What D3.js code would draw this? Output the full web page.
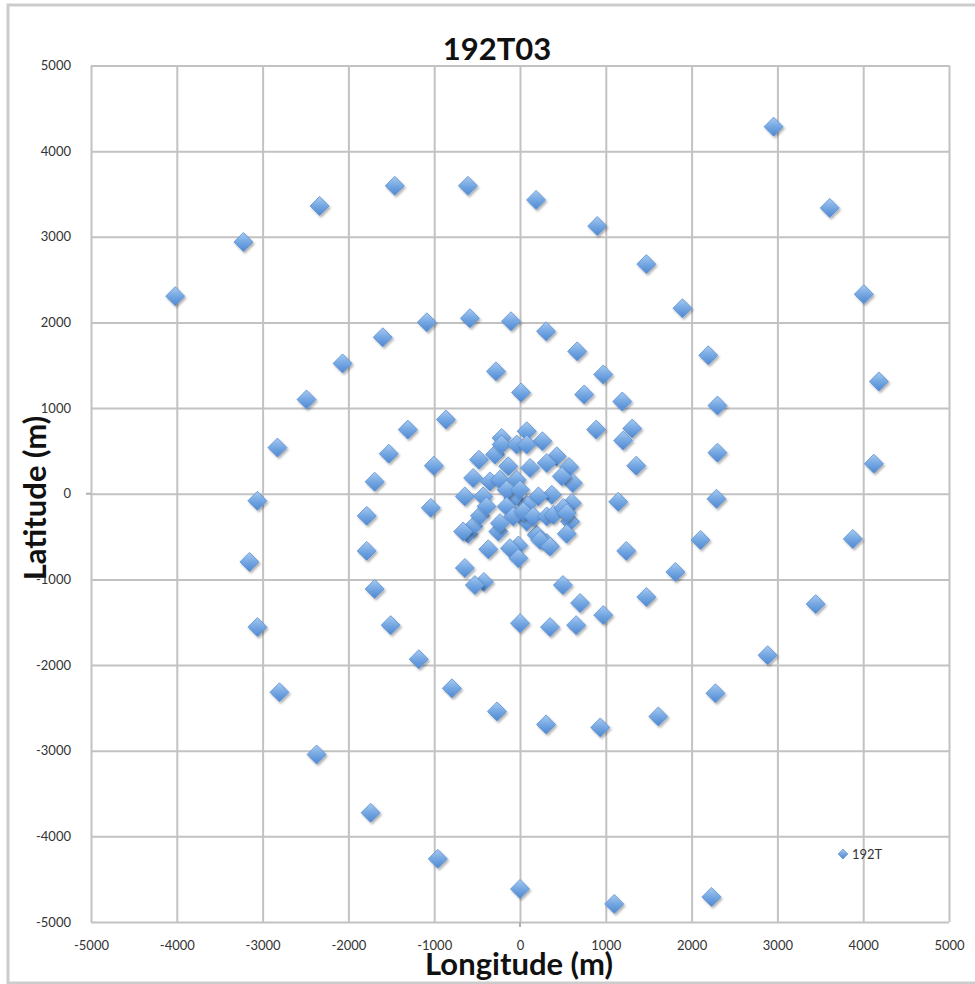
<!DOCTYPE html>
<html>
<head>
<meta charset="utf-8">
<script src="https://cdn.jsdelivr.net/npm/d3@7"></script>
<style>
  body { margin: 0; background: #fff; }
  svg { display: block; font-family: Lato, "Open Sans", sans-serif; }
</style>
</head>
<body>
<svg width="975" height="984"></svg>
<script>
// stations (longitude, latitude) in metres
let ringOuter = [
    [2956, 4286], [3610, 3337], [4007, 2330], [4182, 1311], [4124, 351], [3879, -527],
    [3446, -1288], [2886, -1885], [2278, -2330], [2231, -4707], [1098, -4789], [0, -4614],
    [-958, -4262], [-1741, -3724], [-2371, -3044], [-2804, -2318], [-3061, -1557], [-3154, -796],
    [-3061, -82], [-2827, 539], [-2488, 1101], [-4019, 2307], [-3224, 2939], [-2336, 3360],
    [-1460, 3595], [-607, 3595], [187, 3431], [900, 3126], [1472, 2681], [1893, 2166]
];
let ringMiddle = [
    [-2068, 1522], [-1600, 1827], [-1086, 2002], [-584, 2049], [-105, 2014], [304, 1897],
    [666, 1663], [970, 1393], [1192, 1077], [2194, 1616], [2301, 1030], [2301, 480],
    [2290, -59], [2103, -539], [1811, -913], [1472, -1206], [1612, -2600], [935, -2728],
    [304, -2693], [-269, -2541], [-794, -2272], [-1180, -1932], [-1507, -1534], [-1694, -1112],
    [-1787, -667], [-1787, -258], [-1694, 141], [-1530, 468], [-1308, 749]
];
let ringInner = [
    [-864, 867], [-280, 1429], [12, 1183], [748, 1159], [888, 749], [1308, 761],
    [1203, 621], [1355, 328], [1145, -94], [1238, -667], [970, -1417], [654, -1534],
    [350, -1557], [0, -1511], [700, -1276], [500, -1066], [-421, -1030], [-526, -1066],
    [-643, -867], [-1040, -164], [-1005, 328]
];
let core = [
    [-214, 652], [78, 730], [261, 613], [428, 437], [572, 312], [616, 125], [604, -109],
    [584, -324], [545, -468], [312, -577], [195, -480], [78, -324], [-19, -605], [-117, -636],
    [-19, -753], [-253, -441], [-370, -648], [-604, -468], [-546, -383], [-467, -258],
    [-643, -31], [-546, 184], [-479, 398], [-350, 144], [-234, 164], [-137, 320], [-292, 457],
    [-214, 574], [-39, 574], [117, 301], [78, 574], [312, 359], [487, 203], [370, -12],
    [214, -31], [78, -129], [-78, -51], [-39, 164], [-156, 47], [-429, -31], [-390, -148],
    [-156, -148], [-78, -265], [39, -207], [0, 47], [156, -265], [312, -265], [390, -246],
    [507, -168], [545, -226], [234, -539], [350, -617], [-234, -343], [-662, -441]
];
let ticks = d3.range(-5000, 5001, 1000);
let serieName = "192T";

let svg = d3.select("svg");
let gauche = 91, droite = 949, haut = 65.5, bas = 922;

let x = d3.scaleLinear().domain([-5000, 5000]).range([gauche, droite]);
let y = d3.scaleLinear().domain([-5000, 5000]).range([bas, haut]);

// cadre du graphique
svg.append("rect")
    .attr("x", 8)
    .attr("y", 5)
    .attr("width", 975)
    .attr("height", 978)
    .attr("fill", "none")
    .attr("stroke", "#cccccc")
    .attr("stroke-width", 3);

let defs = svg.append("defs");
let grad = defs.append("linearGradient")
    .attr("id", "bleu")
    .attr("x1", 0).attr("y1", 0)
    .attr("x2", 0).attr("y2", 1);
grad.append("stop").attr("offset", "0%").attr("stop-color", "#a8caf0");
grad.append("stop").attr("offset", "50%").attr("stop-color", "#74a7e2");
grad.append("stop").attr("offset", "100%").attr("stop-color", "#4f88d2");

defs.append("filter")
    .attr("id", "ombre")
    .attr("x", "-50%").attr("y", "-50%")
    .attr("width", "200%").attr("height", "200%")
    .append("feDropShadow")
    .attr("dx", 1.5).attr("dy", 2)
    .attr("stdDeviation", 1.2)
    .attr("flood-color", "#000")
    .attr("flood-opacity", 0.3);

// grille + étiquettes (format sans séparateur, tiret simple)
let fmt = d => String(d);
let axeX = svg.append("g")
    .attr("transform", `translate(0,${bas})`)
    .call(d3.axisBottom(x).tickValues(ticks).tickFormat(fmt).tickSize(-(bas - haut)).tickPadding(19));
let axeY = svg.append("g")
    .attr("transform", `translate(${gauche},0)`)
    .call(d3.axisLeft(y).tickValues(ticks).tickFormat(fmt).tickSize(-(droite - gauche)).tickPadding(20));

[axeX, axeY].forEach(a => {
    a.select(".domain").remove();
    a.selectAll("line").attr("stroke", "#c2c2c2").attr("stroke-width", 2);
    a.selectAll("text")
        .attr("fill", "#333")
        .style("font-size", "13px")
        .style("font-family", "Lato, sans-serif");
});

// petites graduations des axes qui se croisent en 0
svg.append("line")
    .attr("x1", x(0)).attr("x2", x(0))
    .attr("y1", bas).attr("y2", bas + 5)
    .attr("stroke", "#b0b0b0").attr("stroke-width", 2);
svg.append("line")
    .attr("x1", gauche - 5).attr("x2", gauche)
    .attr("y1", y(0)).attr("y2", y(0))
    .attr("stroke", "#b0b0b0").attr("stroke-width", 2);

// titres
svg.append("text")
    .attr("x", 497)
    .attr("y", 60)
    .attr("text-anchor", "middle")
    .style("font-size", "31px")
    .style("font-weight", "bold")
    .attr("fill", "#111")
    .text("192T03");

svg.append("text")
    .attr("x", 519)
    .attr("y", 975)
    .attr("text-anchor", "middle")
    .style("font-size", "31px")
    .style("font-weight", "bold")
    .attr("fill", "#111")
    .text("Longitude (m)");

svg.append("text")
    .attr("transform", "translate(46,498) rotate(-90)")
    .attr("text-anchor", "middle")
    .style("font-size", "31px")
    .style("font-weight", "bold")
    .attr("fill", "#111")
    .text("Latitude (m)");

// losanges
let points = ringOuter.concat(ringMiddle, ringInner, core);
let losange = r => `M0,${-r}L${r},0L0,${r}L${-r},0Z`;

svg.append("g")
    .selectAll("path")
    .data(points)
    .enter()
    .append("path")
    .attr("d", losange(9.5))
    .attr("transform", d => `translate(${x(d[0])},${y(d[1])})`)
    .attr("fill", "url(#bleu)")
    .attr("stroke", "#5a8fd4")
    .attr("stroke-width", 0.8)
    .attr("filter", "url(#ombre)");

// légende
svg.append("path")
    .attr("d", losange(5))
    .attr("transform", "translate(843,854)")
    .attr("fill", "url(#bleu)")
    .attr("stroke", "#5a8fd4")
    .attr("stroke-width", 0.6);
svg.append("text")
    .attr("x", 852)
    .attr("y", 859)
    .style("font-size", "13px")
    .attr("fill", "#333")
    .text(serieName);
</script>
</body>
</html>
